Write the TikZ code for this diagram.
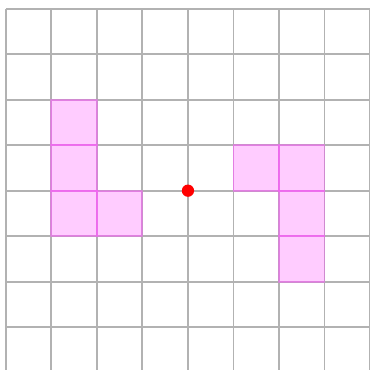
\documentclass[tikz,border=0pt]{standalone}
\usetikzlibrary{calc}
\definecolor{cellfill}{RGB}{255,128,255}
\definecolor{celledge}{RGB}{255,80,255}
\definecolor{gridgrey}{RGB}{178,178,178}

\begin{document}
\begin{tikzpicture}[
    x=1cm, y=1cm,
    gridline/.style  = {draw=gridgrey, line width=1.2pt},
    cellp/.style     = {fill=cellfill, draw=celledge, line width=1.2pt, opacity=0.4},
    origin/.style    = {circle, fill=red, inner sep=0pt, minimum size=0.27cm}
    ]
      % frame ----------------------------------------------------
      \useasboundingbox (-4.13,-3.92) rectangle (4.0,4.19);
      \clip (-4.13,-3.92) rectangle (4.0,4.19);

      % grid -----------------------------------------------------
      \draw[gridline] (-4,-4.5) grid (4.5,4);

      % left piece -----------------------------------------------
      \foreach \cx/\cy in {-3/1, -3/0, -3/-1, -2/-1}
        \draw[cellp] (\cx,\cy) rectangle ++(1,1);

      % right piece ----------------------------------------------
      \foreach \cx/\cy in {1/0, 2/0, 2/-1, 2/-2}
        \draw[cellp] (\cx,\cy) rectangle ++(1,1);

      % centre ---------------------------------------------------
      \node[origin] (o) at (0,0) {};
\end{tikzpicture}
\end{document}
